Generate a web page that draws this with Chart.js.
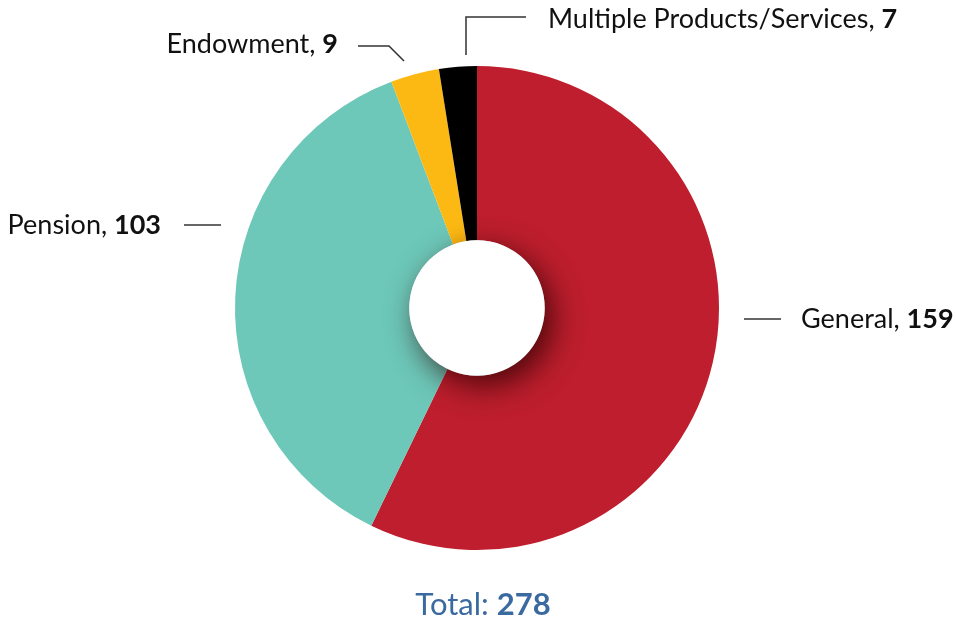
<!DOCTYPE html>
<html>
<head>
<meta charset="utf-8">
<script src="https://cdn.jsdelivr.net/npm/chart.js@4"></script>
<style>
  html, body { margin: 0; padding: 0; background: #fff; }
  #wrap { width: 956px; height: 621px; position: relative; }
</style>
</head>
<body>
<div id="wrap"><canvas id="chart" width="956" height="621"></canvas></div>
<script>
const categories = ['General', 'Pension', 'Endowment', 'Multiple Products/Services'];
const counts = [159, 103, 9, 7];
const sliceColors = ['#BE1E2D', '#6DC8B9', '#FDB913', '#000000'];
const totalLabel = 'Total: ';

// where each label sits and how its leader line runs
const labelLayout = [
  { text: [801, 319], align: 'left', line: [[744, 319], [781, 319]] },
  { text: [161, 225], align: 'right', line: [[184, 225], [221, 225]] },
  { text: [338, 44], align: 'right', line: [[358, 46], [389, 46], [404, 61]] },
  { text: [548, 19], align: 'left', line: [[466, 55], [466, 17], [526, 17]] }
];

const FONT = 'Lato, "Noto Sans", sans-serif';
const LABEL_SIZE = 27;
const TOTAL_SIZE = 31;

const holeShadow = {
  id: 'holeShadow',
  afterDatasetsDraw(chart) {
    const arc = chart.getDatasetMeta(0).data[0];
    if (!arc) return;
    const ctx = chart.ctx;
    ctx.save();
    ctx.beginPath();
    ctx.arc(arc.x, arc.y, arc.outerRadius, 0, Math.PI * 2);
    ctx.clip();
    ctx.shadowColor = 'rgba(40,0,0,0.75)';
    ctx.shadowBlur = 30;
    ctx.shadowOffsetX = 8;
    ctx.shadowOffsetY = 10;
    ctx.fillStyle = '#fff';
    ctx.beginPath();
    ctx.arc(arc.x, arc.y, arc.innerRadius, 0, Math.PI * 2);
    ctx.fill();
    ctx.restore();
  }
};

const sliceLabels = {
  id: 'sliceLabels',
  afterDraw(chart) {
    const ctx = chart.ctx;
    ctx.save();
    ctx.strokeStyle = '#333';
    ctx.lineWidth = 1.5;
    labelLayout.forEach((l, i) => {
      ctx.beginPath();
      l.line.forEach((p, j) => j ? ctx.lineTo(p[0], p[1]) : ctx.moveTo(p[0], p[1]));
      ctx.stroke();

      const name = categories[i] + ', ';
      const val = String(counts[i]);
      ctx.textBaseline = 'middle';
      ctx.font = LABEL_SIZE + 'px ' + FONT;
      const w1 = ctx.measureText(name).width;
      ctx.font = 'bold ' + LABEL_SIZE + 'px ' + FONT;
      const w2 = ctx.measureText(val).width;
      let x = l.align === 'left' ? l.text[0] : l.text[0] - w1 - w2;
      ctx.fillStyle = '#111';
      ctx.textAlign = 'left';
      ctx.font = LABEL_SIZE + 'px ' + FONT;
      ctx.fillText(name, x, l.text[1]);
      ctx.font = 'bold ' + LABEL_SIZE + 'px ' + FONT;
      ctx.fillText(val, x + w1, l.text[1]);
    });

    // total under the doughnut
    const total = counts.reduce((a, b) => a + b, 0);
    const arc = chart.getDatasetMeta(0).data[0];
    ctx.font = TOTAL_SIZE + 'px ' + FONT;
    const t1 = ctx.measureText(totalLabel).width;
    ctx.font = 'bold ' + TOTAL_SIZE + 'px ' + FONT;
    const t2 = ctx.measureText(String(total)).width;
    const tx = arc.x - (t1 + t2) / 2 + 6;
    const ty = arc.y + arc.outerRadius + 55;
    ctx.fillStyle = '#3B6AA0';
    ctx.font = TOTAL_SIZE + 'px ' + FONT;
    ctx.fillText(totalLabel, tx, ty);
    ctx.font = 'bold ' + TOTAL_SIZE + 'px ' + FONT;
    ctx.fillText(String(total), tx + t1, ty);
    ctx.restore();
  }
};

new Chart(document.getElementById('chart'), {
  type: 'doughnut',
  data: {
    labels: categories,
    datasets: [{ data: counts, backgroundColor: sliceColors, borderWidth: 0, hoverOffset: 0 }]
  },
  options: {
    responsive: false,
    animation: false,
    cutout: '28%',
    layout: { padding: { top: 66, bottom: 71, left: 235, right: 237 } },
    plugins: { legend: { display: false }, tooltip: { enabled: false } }
  },
  plugins: [holeShadow, sliceLabels]
});
</script>
</body>
</html>
